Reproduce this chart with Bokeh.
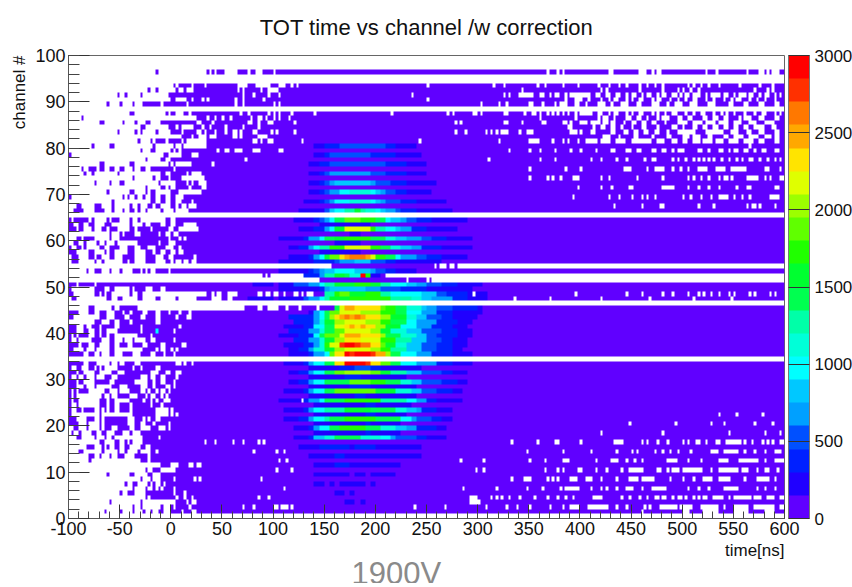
import numpy as np
from bokeh.plotting import figure
from bokeh.embed import file_html
from bokeh.resources import INLINE
from bokeh.models import LinearColorMapper, ColorBar, FixedTicker, Title, Range1d

TITLE = "TOT time vs channel /w correction"
X_LABEL = "time[ns]"
Y_LABEL = "channel #"
NOTE = "1900V"
X_TICKS = list(range(-100, 601, 50))
X_MINOR = list(range(-100, 601, 10))
Y_TICKS = list(range(0, 101, 10))
Y_MINOR = list(range(0, 101, 2))
Z_TICKS = [0, 500, 1000, 1500, 2000, 2500, 3000]
PALETTE = ["#6000ff", "#2000ff", "#0020ff", "#0050ff", "#00a0ff", "#00c8ff", "#00ffff", "#00ffd8", "#00ffa8", "#00ff50",
           "#00ff30", "#20ff00", "#60ff00", "#9cff00", "#dfff00", "#ffe400", "#ffa800", "#ff7800", "#ff3000", "#ff0000"]
LEVEL_KEYS = "abcdefghijklmnopqrst"
BIN_NS = 2.5
CENTER_START = 100
CENTER_STEP = 5

# occupied time intervals [ns] for every channel; channels not named are empty
FILLED = {
96: [(-14,-12),(36,38),(40,42),(45,47),(48,52),(65,70),(72,75),(78,83),(92,100),(104,319),(322,368),(370,377),(380,383),(385,400),(402,410),(411,414),(416,419),(421,424),(426,428),(434,458),(466,471),(473,476),(480,489),(492,494),(495,511),(512,515),(517,523),(526,532),(536,547),(549,552),(554,562),(567,575),(580,583),(585,588),(595,600)],
93: [(4,6),(8,21),(24,33),(36,52),(54,62),(64,65),(76,83),(98,106),(114,600)],
92: [(-22,-20),(-14,-12),(6,8),(14,16),(24,88),(92,96),(106,600)],
91: [(-52,-50),(-45,-42),(-30,-27),(-2,4),(6,14),(16,65),(67,70),(74,79),(83,90),(91,95),(99,104),(109,600)],
90: [(2,4),(17,21),(24,31),(33,36),(39,600)],
89: [(-62,-60),(-50,-48),(-37,-34),(-26,-20),(-18,-10),(-6,16),(18,24),(27,62),(65,71),(74,85),(87,95),(97,99),(103,105),(108,600)],
87: [(-38,-36),(-4,-2),(2,4),(14,18),(22,67),(72,76),(78,82),(83,94),(98,101),(104,106),(108,109),(111,114),(116,119),(121,600)],
86: [(-86,-84),(26,29),(31,34),(39,43),(47,50),(53,57),(60,64),(67,77),(80,86),(90,93),(97,100),(104,106),(109,114),(118,600)],
85: [(-68,-66),(-46,-44),(-34,-32),(-25,-23),(-21,-19),(-10,-6),(-3,26),(31,40),(43,70),(72,76),(80,86),(88,95),(100,600)],
84: [(-28,-26),(-2,0),(2,6),(8,11),(23,30),(33,38),(42,52),(55,70),(73,84),(88,600)],
83: [(-52,-50),(-34,-32),(-30,-28),(-14,-12),(0,10),(14,25),(30,32),(36,42),(45,52),(56,60),(65,67),(72,80),(85,98),(102,600)],
82: [(12,14),(16,20),(24,28),(36,38),(46,60),(66,68),(72,85),(95,600)],
81: [(-32,-30),(-20,-18),(-14,-4),(-2,11),(14,16),(36,80),(85,88),(92,96),(100,600)],
80: [(-76,-74),(-58,-56),(-16,-14),(3,5),(10,13),(36,600)],
79: [(-30,-29),(-18,-16),(0,3),(5,8),(10,46),(49,52),(58,62),(70,71),(74,80),(88,105),(112,600)],
78: [(-100,-98),(-6,-2),(10,20),(28,37),(39,600)],
77: [(-24,-22),(-8,-6),(0,62),(64,67),(69,73),(76,90),(92,600)],
76: [(-68,-66),(-38,-36),(-2,1),(3,5),(22,42),(44,600)],
75: [(-86,-84),(-79,-76),(-75,-72),(-68,-66),(-60,-58),(-56,-54),(-48,-46),(-36,-34),(-28,-24),(-20,2),(5,16),(17,600)],
74: [(-84,-82),(-76,-74),(-52,-50),(-8,-6),(0,4),(6,15),(18,21),(30,600)],
73: [(-36,-34),(-16,-14),(-8,-6),(-4,-2),(0,5),(7,10),(33,600)],
72: [(-74,-72),(-60,-58),(-50,-46),(-12,-10),(6,9),(12,14),(18,20),(24,27),(37,600)],
71: [(-24,-22),(-8,-6),(-2,0),(5,12),(14,18),(22,30),(35,600)],
70: [(-62,-60),(-38,-34),(-24,-22),(-18,-16),(2,8),(32,600)],
69: [(-100,-98),(-47,-45),(-42,-40),(-34,-32),(-26,-24),(-18,-16),(-8,-6),(2,6),(13,14),(17,600)],
68: [(-56,-54),(-18,-16),(-10,-6),(2,4),(11,14),(16,20),(23,27),(28,600)],
67: [(-92,-88),(-74,-68),(-56,-54),(-40,-38),(-32,-30),(-22,-18),(-14,-10),(2,4),(8,10),(16,18),(26,600)],
66: [(-93,-86),(-74,-66),(-56,-54),(-47,-45),(-38,-36),(-32,-30),(-25,-23),(-10,-8),(3,5),(18,600)],
64: [(-99,-97),(-95,-93),(-91,-89),(-88,-85),(-84,-80),(-76,-75),(-62,-60),(-57,-49),(-39,-37),(-32,-30),(-3,0),(5,600)],
63: [(-99,-94),(-88,-84),(-80,-75),(-65,-58),(-40,-37),(-26,-25),(-19,-10),(-5,0),(5,12),(25,600)],
62: [(-99,-92),(-88,-84),(-76,-75),(-67,-62),(-58,-53),(-40,-35),(-31,-19),(-16,-3),(3,7),(28,600)],
61: [(-60,-58),(-50,-47),(-44,-40),(-38,-35),(-29,-13),(-10,-5),(0,3),(8,12),(13,600)],
60: [(-91,-88),(-84,-76),(-58,-57),(-49,-45),(-44,-31),(-29,-3),(0,7),(10,13),(15,600)],
59: [(-94,-91),(-84,-82),(-71,-70),(-63,-62),(-54,-52),(-32,-13),(-10,-3),(5,10),(12,600)],
58: [(-99,-97),(-91,-88),(-84,-82),(-68,-66),(-58,-50),(-42,-35),(-29,-23),(-15,-5),(3,7),(12,600)],
57: [(-99,-93),(-78,-74),(-65,-62),(-58,-54),(-42,-34),(-23,-18),(-13,-10),(-5,0),(5,7),(13,600)],
56: [(-97,-89),(-78,-74),(-72,-67),(-60,-54),(-46,-34),(-24,-16),(-6,-3),(3,12),(14,22),(26,600)],
55: [(-97,-91),(-75,-73),(-67,-66),(-46,-42),(-38,-36),(-23,-21),(-18,-15),(-3,0),(3,5),(10,12),(18,21),(26,600)],
54: [(158,257),(260,262),(271,273),(279,281)],
53: [(-81,-79),(-74,-68),(-60,-58),(-50,-48),(-36,-29),(-27,-25),(-22,-20),(-15,-10),(-8,-3),(2,4),(7,15),(16,600)],
52: [(90,92),(95,97),(132,211)],
51: [(145,150),(152,231),(233,244),(246,251),(253,255)],
50: [(-99,-92),(-90,-75),(-72,600)],
49: [(-99,-98),(-74,-66),(-58,-56),(-40,-37),(-34,-26),(-16,-10),(-5,2),(3,600)],
48: [(-99,-94),(-75,-71),(-67,-65),(-62,-57),(-39,-37),(-32,-28),(36,39),(43,45),(52,55),(65,109),(114,116),(117,119),(125,127),(130,132),(140,600)],
47: [(-96,-93),(-62,-58),(-52,-48),(-32,-28),(-15,-10),(6,7),(26,34),(36,41),(52,55),(62,600)],
45: [(-79,-76),(-56,-54),(-49,-41),(-38,-32),(73,85),(90,95),(106,113),(115,125),(128,143),(147,600)],
44: [(-99,-89),(-78,-76),(-70,-63),(-55,-47),(-44,-41),(-37,-27),(-21,-14),(-8,-3),(0,7),(11,18),(20,600)],
43: [(-99,-96),(-70,-63),(-55,-44),(-38,-29),(-24,-14),(-8,5),(8,15),(20,600)],
42: [(-75,-67),(-60,-54),(-50,-41),(-36,-26),(-24,-16),(-10,-6),(-3,10),(12,15),(16,600)],
41: [(-99,-92),(-84,-82),(-76,-70),(-67,-54),(-50,-29),(-26,-13),(-11,7),(10,600)],
40: [(-99,-93),(-83,-80),(-73,-71),(-67,-62),(-52,-31),(-26,-11),(-11,2),(5,600)],
39: [(-99,-97),(-95,-93),(-88,-80),(-75,-71),(-67,-62),(-58,-55),(-31,-19),(-16,2),(3,600)],
38: [(-99,-97),(-91,-89),(-76,-68),(-60,-55),(-47,-44),(-37,-34),(-24,-21),(-14,3),(5,600)],
37: [(-99,-91),(-86,-80),(-75,-69),(-60,-56),(-49,-42),(-37,-27),(-21,-10),(-3,2),(3,11),(15,600)],
36: [(-99,-96),(-85,-84),(-75,-72),(-59,-56),(-26,-14),(-11,-10),(-3,0),(3,5),(9,14),(16,600)],
35: [(-98,-91),(-88,-85),(-78,-75),(-70,-67),(-58,-54),(-46,-37),(-28,-19),(-14,-8),(-5,2),(5,15),(16,600)],
33: [(-99,-91),(-88,-84),(-78,-72),(-60,-58),(-52,-50),(-45,-34),(-30,-28),(-26,6),(10,13),(16,21),(23,600)],
32: [(-99,-97),(-92,-88),(-80,-76),(-72,-71),(-67,-66),(-52,-37),(-35,-29),(-27,-19),(-18,-14),(-10,-1),(2,12),(13,600)],
31: [(-99,-92),(-88,-84),(-75,-71),(-57,-52),(-44,-33),(-31,-19),(-11,-6),(0,5),(10,600)],
30: [(-99,-97),(-92,-90),(-84,-82),(-75,-72),(-65,-57),(-52,-31),(-21,-19),(-13,-11),(-5,5),(8,600)],
29: [(-99,-92),(-88,-85),(-75,-71),(-68,-60),(-55,-34),(-21,-18),(-13,-11),(-5,3),(5,600)],
28: [(-99,-93),(-85,-82),(-75,-72),(-57,-50),(-42,-31),(-21,-18),(-13,-11),(-8,-4),(2,3),(7,600)],
27: [(-99,-97),(-95,-92),(-88,-86),(-83,-80),(-65,-63),(-62,-59),(-52,-49),(-38,-36),(-34,-30),(-25,-22),(-19,600)],
26: [(-99,-97),(-95,-93),(-67,-65),(-59,-57),(-52,-39),(-31,-24),(-22,600)],
25: [(-99,-97),(-95,-89),(-68,-63),(-60,-56),(-40,-27),(-23,-20),(-16,-14),(-11,-8),(0,600)],
24: [(-99,-97),(-91,-89),(-68,-63),(-58,-54),(-49,-39),(-36,-26),(-23,-19),(-16,-10),(-6,600)],
23: [(-99,-97),(-92,-88),(-84,-75),(-70,-67),(-64,-62),(-59,-55),(-50,-41),(-37,600)],
22: [(-99,-98),(-70,-67),(-37,-14),(-1,1),(3,5),(8,600)],
21: [(-99,-92),(-82,-75),(-70,-68),(-65,-63),(-62,-42),(-34,-27),(-24,-22),(-19,-16),(-10,-1),(2,600)],
20: [(-99,-91),(-82,-80),(-70,-68),(-63,-58),(-56,-42),(-34,-31),(-24,-18),(-14,-3),(0,600)],
19: [(-94,-91),(-82,-80),(-70,-68),(-63,-58),(-52,-39),(-34,-29),(-18,-13),(-3,-2),(0,600)],
18: [(-97,-94),(-88,-87),(-76,-72),(-67,-63),(-54,-48),(-40,-37),(-29,-10),(-8,600)],
17: [(-91,-87),(-75,-72),(-65,-63),(-56,-54),(-27,-18),(-16,-13),(-8,5),(7,600)],
16: [(-68,-66),(-53,-49),(-45,-43),(-40,-38),(-27,600)],
15: [(-82,-76),(-66,-65),(-62,-60),(-53,-51),(-44,-40),(-29,-26),(-20,600)],
14: [(-88,-86),(-67,-66),(-52,-50),(-45,-43),(-31,-29),(-19,-14),(-12,600)],
13: [(-78,-75),(-68,-67),(-58,-57),(-52,-45),(-34,-22),(-20,600)],
12: [(-79,-77),(-28,-22),(-20,7),(9,600)],
11: [(-8,1),(8,18),(23,26),(30,600)],
10: [(-24,-22),(-16,-13),(-12,-11),(5,9),(11,600)],
9: [(-62,-60),(-38,-36),(-22,-20),(-18,-17),(-8,600)],
8: [(-28,-27),(-20,-18),(-9,3),(6,14),(16,22),(26,27),(31,600)],
7: [(-44,-42),(-36,-33),(-22,-21),(-17,-14),(-9,-7),(-3,-1),(2,600)],
6: [(-37,-34),(-24,-22),(-17,-14),(-12,-9),(-6,3),(7,600)],
5: [(-50,-49),(-42,-38),(-36,-34),(-23,-21),(-18,-16),(-14,3),(7,12),(15,600)],
4: [(-24,-22),(-20,5),(8,13),(16,21),(24,600)],
3: [(-59,-58),(-30,-29),(5,16),(18,20),(26,600)],
2: [(-36,-35),(-30,-29),(-10,-9),(0,1),(5,18),(21,24),(27,600)],
1: [(-63,-62),(-49,-48),(-37,-36),(-26,-25),(-19,-18),(-11,-10),(-8,-7),(2,10),(13,20),(26,600)],
}

# empty bins inside those intervals: a number is one bin, a pair is a span
HOLES = {
93: [119,124,252,317,326,358,366,384,399,418,428,439,446,458,466,473,482,505,510,518,526,537,557,577,588],
92: [65,72,343,420,427,459,482,495,501,508,515,570,583,589],
91: [236,327,332,(342,355),(362,366),370,(375,379),386,(392,410),(415,421),(426,431),(435,441),446,(450,455),460,(465,470),475,(480,486),(490,494),498,503,507,(512,518),523,528,(532,538),(542,546),552,(556,562),(566,570),576,(580,585),590,595],
90: [64,72,92,252,386,(397,402),408,421,428,(434,437),446,452,(458,462),470,(476,479),488,496,504,(510,514),524,530,540,548,(554,558),566,574,(580,583),592],
89: [304,322,329,(350,356),363,375,(381,388),(396,400),(405,408),(418,425),432,(442,448),(456,460),(470,478),486,(494,499),(508,516),(526,532),(545,550),(560,566),(576,580),(590,594)],
87: [118,141,217,270,276,295,298,303,(325,330),345,353,356,361,368,374,379,384,389,396,(400,412),(418,422),428,(433,437),445,452,(458,462),470,476,484,(492,496),504,512,(518,522),530,538,544,552,560,570,(578,582),590,596],
86: [360,(395,398),(418,421),(424,428),434,(445,450),(456,460),(465,468),475,(482,488),(496,500),(506,510),(520,525),(530,536),(542,546),555,(562,568),(575,580),(590,594)],
85: [121,279,283,(326,329),343,(363,368),(384,388),392,(402,407),(411,414),(417,420),(424,427),(430,436),(443,446),(452,456),(462,465),(472,475),484,(497,504),(512,520),(524,532),(536,545),(552,558),(565,572),(580,590)],
84: [(389,393),(413,416),(420,424),(430,434),(440,443),(450,453),(460,464),(475,478),(490,494),(500,503),(510,514),(522,525),(530,535),(540,545),(552,556),(562,566),(572,580),(588,592)],
83: [103,122,279,288,309,313,318,(324,329),342,(349,355),(391,394),396,401,(410,415),(430,435),(444,448),(453,457),(463,467),(473,477),(485,488),(495,512),(524,540),(548,555),(563,568),(575,580),(590,594)],
82: [(424,429),(438,441),(454,458),(470,473),(486,490),(500,508),(512,518),(525,530),(540,545),(552,560),(566,575),(582,587),(592,596)],
81: [129,243,322,(350,354),(356,361),374,384,388,(398,400),(406,409),(412,418),(421,424),(427,431),(436,446),(450,459),(462,470),(475,482),(490,496),(500,506),(510,518),(522,530),(534,540),(545,554),(560,570),(576,580),(590,596)],
80: [566],
79: [331,352,361,376,(391,393),(400,403),(415,418),(432,435),(446,450),(455,460),(470,475),(480,484),(490,493),(497,503),(515,520),(525,528),(535,540),(545,548),(552,556),(560,565),(570,573),(578,583),(590,594)],
78: [22],
77: [312,361,376,412,421,437,445,463,470,(473,476),490,496,503,510,516,522,527,532,538,546,553,559,(566,570),576,583,591,(595,598)],
76: [42],
75: [352,386,400,(443,449),466,(474,483),490,(498,500),507,(515,524),(534,542),(549,563),(582,586),(596,598)],
73: [350,368,374,382,(393,400),422,429,457,482,505,511,518,527,535,(540,545),549,(564,576),580,586,(597,599)],
71: [398,420,432,(448,452),(482,492),505,516,526,536,553,(563,568),(592,596)],
69: [394,428,438,451,461,466,474,500,508,518,529,(537,544),552,558,566,(585,596)],
67: [434,461,(478,482),516,532,(563,566),(569,572),(575,578),591],
48: [(85,90),(93,97),(100,104),295,395,447,460,480,(490,493),505,515,520,528,537,545,(550,553),565,572,585,592],
47: [336,372,420,468,512,548],
27: [(-14,-12),(-8,-4),(-1,1)],
26: [(-18,-15),(-10,-8),(-4,-2)],
25: [129],
23: [(-14,-2),(2,3)],
22: [536,554,578],
20: [448,494,529,542,570,588],
18: [422,482,545,581,597],
16: [34,44,62,72,86,90,334,358,(376,379),402,(433,443),460,467,475,485,500,506,(514,518),(523,526),(533,537),(544,557),562,568,578,583,588,(596,599)],
14: [82,103,110,349,384,410,437,451,456,474,480,488,495,508,(529,534),(541,554),560,570,580,(591,598)],
12: [106,114,284,306,350,365,(383,391),415,(430,438),445,453,461,(487,494),506,518,(536,546),(556,574),580,(590,600)],
10: [103,118,299,306,366,378,384,(399,403),415,425,441,(449,463),(477,479),485,(492,497),(501,521),528,(537,554),(558,565),573,(580,586),594],
8: [88,334,(347,353),368,374,379,(391,397),(407,412),422,437,(449,457),(462,472),488,501,510,(521,531),(536,547),560,(573,586),591],
6: [112,287,318,349,363,381,(386,400),412,422,427,435,(446,453),461,(472,485),505,515,526,(541,554),573,581,590],
4: [85,95,(293,301),314,319,324,332,342,355,368,378,386,394,(413,422),441,448,459,466,(474,478),(482,485),490,(496,500),503,510,515,(520,525),(530,540),(545,548),(550,568),(570,578),(583,590),(595,600)],
3: [(294,302)],
2: [72,(80,83),100,103,(109,115),118,238,269,308,329,338,350,371,384,(391,400),(409,428),435,446,463,469,(479,495),(498,511),(518,534),541,(550,565),(572,590),(595,600)],
1: [461,(502,508),(521,534),(550,564),(580,590)],
}

# colour level per 5 ns from 100 ns, key "a" = lowest band; the rest of a row stays on "a"
CENTER = {
80: "aaaaaaaa bb ccc ddddddddd cc bbbb",
78: "aaaaaaaa bb c dddddddd ccccc bbbbb",
76: "aaaaaaa bb cc ddddddddddd cccc bbbb",
74: "aaaaaaa bb c d eeeeeeee ddd cccc bbbb",
72: "aaaaaaa bb c d e fffffff e ddd ccc bbbbbb",
70: "aaaaaaa bb c d ee gg hhhh g f e dd cc bbbbb",
68: "aaaaaa bbb c d e ggg hhhh g f e ddd ccc bbbbbb",
66: "aaaaa bbbbb d f gg ii k i hh g f ee d ccc bbbbbbb",
64: "aaaa bbbb c d e g jj mmm lll jj g ff e dd ccc bbbbbbb",
63: "aaaaaaaaa bbbbbbbbbb",
62: "aaaaa bbb cc e g kk ooooo l ii gg f ee ccc bbbbbb",
61: "aaaaaaaaaaaaaaa bb",
60: "a bbbbb c ee g jj kk lllll jjj hh ff eee dd ccc bbbbb",
59: "aaaaaaaaaaaa bbbbb",
58: "aaa bb cc e g ii lll ooooo ll jj hh ff ee cccc bbbbbb",
57: "aaaaaaaaa bbbbbbbb",
56: "aaa bbbb c e g k mm p qrrrq o ll jj g eee dd ccc bbbbb",
55: "a bbbbbbb cccc d eee fff ddd cc bbbbbbbbb",
53: "a bbbbbb c d e ff gggg fff e dd cc bbbb",
52: "aaaaaa ccc e ii kk j hh t l bb",
50: "a bbb ddd ee g ii kkkk lll kk ii ggg ff ee ddd ccc bbbbb",
49: "a bbbbbbbb c e fffffff eee dddd ccccc bbbbbbbbb",
48: "aaaaaaaaaa ii l mm kkk lll ii gggggg fff dd cccc bbbb",
47: "a bbbbb d ee g i kkkk llllllll iiii hh ff eeee ccc bbbb",
45: "aaaaaaaaaaaa j o qq ppppp m ll jj hhh f ee ddd ccccc b",
44: "aaaaaaa b e g j mm oooo nnnn lll jj ggg eee ccc bbbbbb",
43: "aaa ccccc e g j n p qrqrq ppp nn kkk hh ff ddd cc bbbbb",
42: "aaaa cccc e h kk nn oooo nnn ll jjj gg eeee cccc bbb",
41: "aa bbbb cc gg jj oo pqpqpp nn kkk ggg eee cccc bbb",
40: "aaa cccc ee h jj mm ooooo nn kk hhh fff dddd ccc bbb",
39: "a bbbb ccc g j mmm o qqq pppp n jjj hhh ff dd cccc bbb",
38: "aaaa ccc ee h kk nn ppp oooo lll iii fff ddd cc bbb",
37: "aa bbbb cc e h l oo stts rr pp m kk hh fff ddd ccc bbb",
36: "aaa bb cc e hh kk nn ooooo nn ll iii fff ddd ccc bb",
35: "aaa bbbb c ee g m pp tsttt s qq n jj ggg eee cccc bbbb",
33: "aa bbbb c e gg jj pp tttt s pp mm jj ggg eeee ccc bbbb",
32: "aaaaaaa bbbbbb ccc ddd cc bbbbbbbb",
31: "aaa bb cc e gg jj mmnnnnnmm kk iii fff dddd cc bbb",
30: "aaaaaaa bbbbbbb ccc bbbbbbbbb",
29: "aaa bb cc e gg jjjjj mmmm lll jjj hh ff dddd ccc bb",
28: "aaaaaaa bbbbbbbb cccc bbbbbbbbb",
27: "aa bbbb c e gg jj mmmmmmmm kkkk hhh ff ddd ccc bb",
26: "aaaaaaa bbbbbbbbb cc bbbbbbbbbb",
25: "a bbbbb c ee g jjjj lllllll iiiii gg ee cc bbbbb",
24: "aaaaaaaa bbbbbbbbbb cc bbbbbbb",
23: "aa bbbb c e gg iiii kkkkk jjjjj hh ff e ccc bbb",
22: "aaaaaaaa bbbbbbbbbb cc bbbbbb",
21: "aa bbb cc e gg i jjj llllll jjjjj gg e ddd cc bb",
20: "aaaaaaaa bbbbbbbbbb c bbbbbb",
19: "aaaa bbb c e gg jj lllll jjj hhh ff ee cccc bb",
18: "aaaaaaaa bbbbbbbbbb c bbbbbb",
17: "aaaa bbb c ff hh jjjjj hhhh gg e dddd cc bbbb",
15: "aaaaa bbbb cccccc b cccc bbbbbbbbb",
13: "aaaaaaa bbbbb cc bbbbbbbbbbbbbbb",
11: "aaaaaaaa bbbb ccc bbbbbbbbbb",
9: "aaaaaaaa bbbbbbb a bb a bbbbb",
7: "aaaaaaaa bb a b a bbbbb a b",
5: "aaaaaaaaaaaa bb a b",
3: "aaaaaaaaaaaaaa bb a b",
}
# isolated brighter stretches left of the 5 ns table: (channel, from, to, key)
EXTRA_LEVELS = [(50, 80, 100, "b"), (47, 75, 100, "b"), (40, -14, -12, "g")]


def to_bin(t):
    return int((t + 100) // BIN_NS)


def span(a, b):
    i0 = to_bin(a)
    return i0, max(i0 + 1, int(round((b + 100) / BIN_NS)))


n_bins = int(700 / BIN_NS)
filled = np.zeros((100, n_bins), dtype=bool)
levels = np.zeros((100, n_bins))
for ch, runs in FILLED.items():
    for a, b in runs:
        i0, i1 = span(a, b)
        filled[ch, i0:i1] = True
for ch, holes in HOLES.items():
    for h in holes:
        if isinstance(h, tuple):
            i0, i1 = span(*h)
            filled[ch, i0:i1] = False
        else:
            filled[ch, to_bin(h)] = False
for ch, row in CENTER.items():
    for k, key in enumerate(row.replace(" ", "")):
        i0, i1 = span(CENTER_START + k * CENTER_STEP, CENTER_START + (k + 1) * CENTER_STEP)
        levels[ch, i0:i1] = LEVEL_KEYS.index(key)
for ch, a, b, key in EXTRA_LEVELS:
    i0, i1 = span(a, b)
    levels[ch, i0:i1] = LEVEL_KEYS.index(key)
counts = np.where(filled, (levels + 0.5) * 150.0, np.nan)

mapper = LinearColorMapper(palette=PALETTE, low=0, high=3000, nan_color=(0, 0, 0, 0))

FONT = "Liberation Sans"
p = figure(width=852, height=587, frame_width=716, frame_height=463, output_backend="svg", toolbar_location=None,
           x_range=Range1d(-100, 600), y_range=Range1d(0, 100), min_border_left=68, min_border_top=55,
           min_border_bottom=0, min_border_right=0, title=TITLE, background_fill_color="white")
p.title.align = "center"
p.title.vertical_align = "top"
p.title.text_font = FONT
p.title.text_font_size = "22px"
p.title.text_font_style = "normal"
p.title.text_color = "#111111"
p.title.standoff = 27
p.grid.visible = False
p.outline_line_color = "#666666"
p.outline_line_width = 1

p.image(image=[counts], x=-100, y=0, dw=700, dh=100, color_mapper=mapper)

xa, ya = p.xaxis[0], p.yaxis[0]
xa.ticker = FixedTicker(ticks=X_TICKS, minor_ticks=X_MINOR)
ya.ticker = FixedTicker(ticks=Y_TICKS, minor_ticks=Y_MINOR)
xa.major_label_overrides = {-100: "-100", -50: "-50"}
xa.major_tick_in, xa.major_tick_out, xa.minor_tick_in, xa.minor_tick_out = 14, 0, 7, 0
ya.major_tick_in, ya.major_tick_out, ya.minor_tick_in, ya.minor_tick_out = 21, 0, 11, 0
for ax in (xa, ya):
    ax.major_label_text_font = FONT
    ax.major_label_text_font_size = "18px"
    ax.major_label_text_color = "#111111"
    ax.major_label_standoff = 3
    ax.axis_line_color = "#555555"
    ax.major_tick_line_color = "#333333"
    ax.minor_tick_line_color = "#444444"

cb = ColorBar(color_mapper=mapper, ticker=FixedTicker(ticks=Z_TICKS), width=21, height=463, padding=0, margin=0,
              location=(4, 0), major_tick_in=21, major_tick_line_color="#333333", major_tick_line_width=1,
              minor_tick_line_color=None, bar_line_color="#777777", bar_line_width=1, label_standoff=5,
              major_label_text_font=FONT, major_label_text_font_size="17px", major_label_text_color="#111111",
              title=None, border_line_color=None, background_fill_alpha=0)
p.add_layout(cb, "right")

y_title = Title(text=Y_LABEL, align="right", text_font=FONT, text_font_size="17px", text_font_style="normal",
                text_color="#111111", standoff=8)
p.add_layout(y_title, "left")
x_title = Title(text=X_LABEL, align="right", text_font=FONT, text_font_size="17px", text_font_style="normal",
                text_color="#111111", standoff=2)
p.add_layout(x_title, "below")
note = Title(text=NOTE, align="left", text_font=FONT, text_font_size="31px", text_font_style="normal",
             text_color="#8a8a8a", standoff=-14, offset=283, text_line_height=0.9)
p.add_layout(note, "below")

open("out.html", "w").write(file_html(p, INLINE))
